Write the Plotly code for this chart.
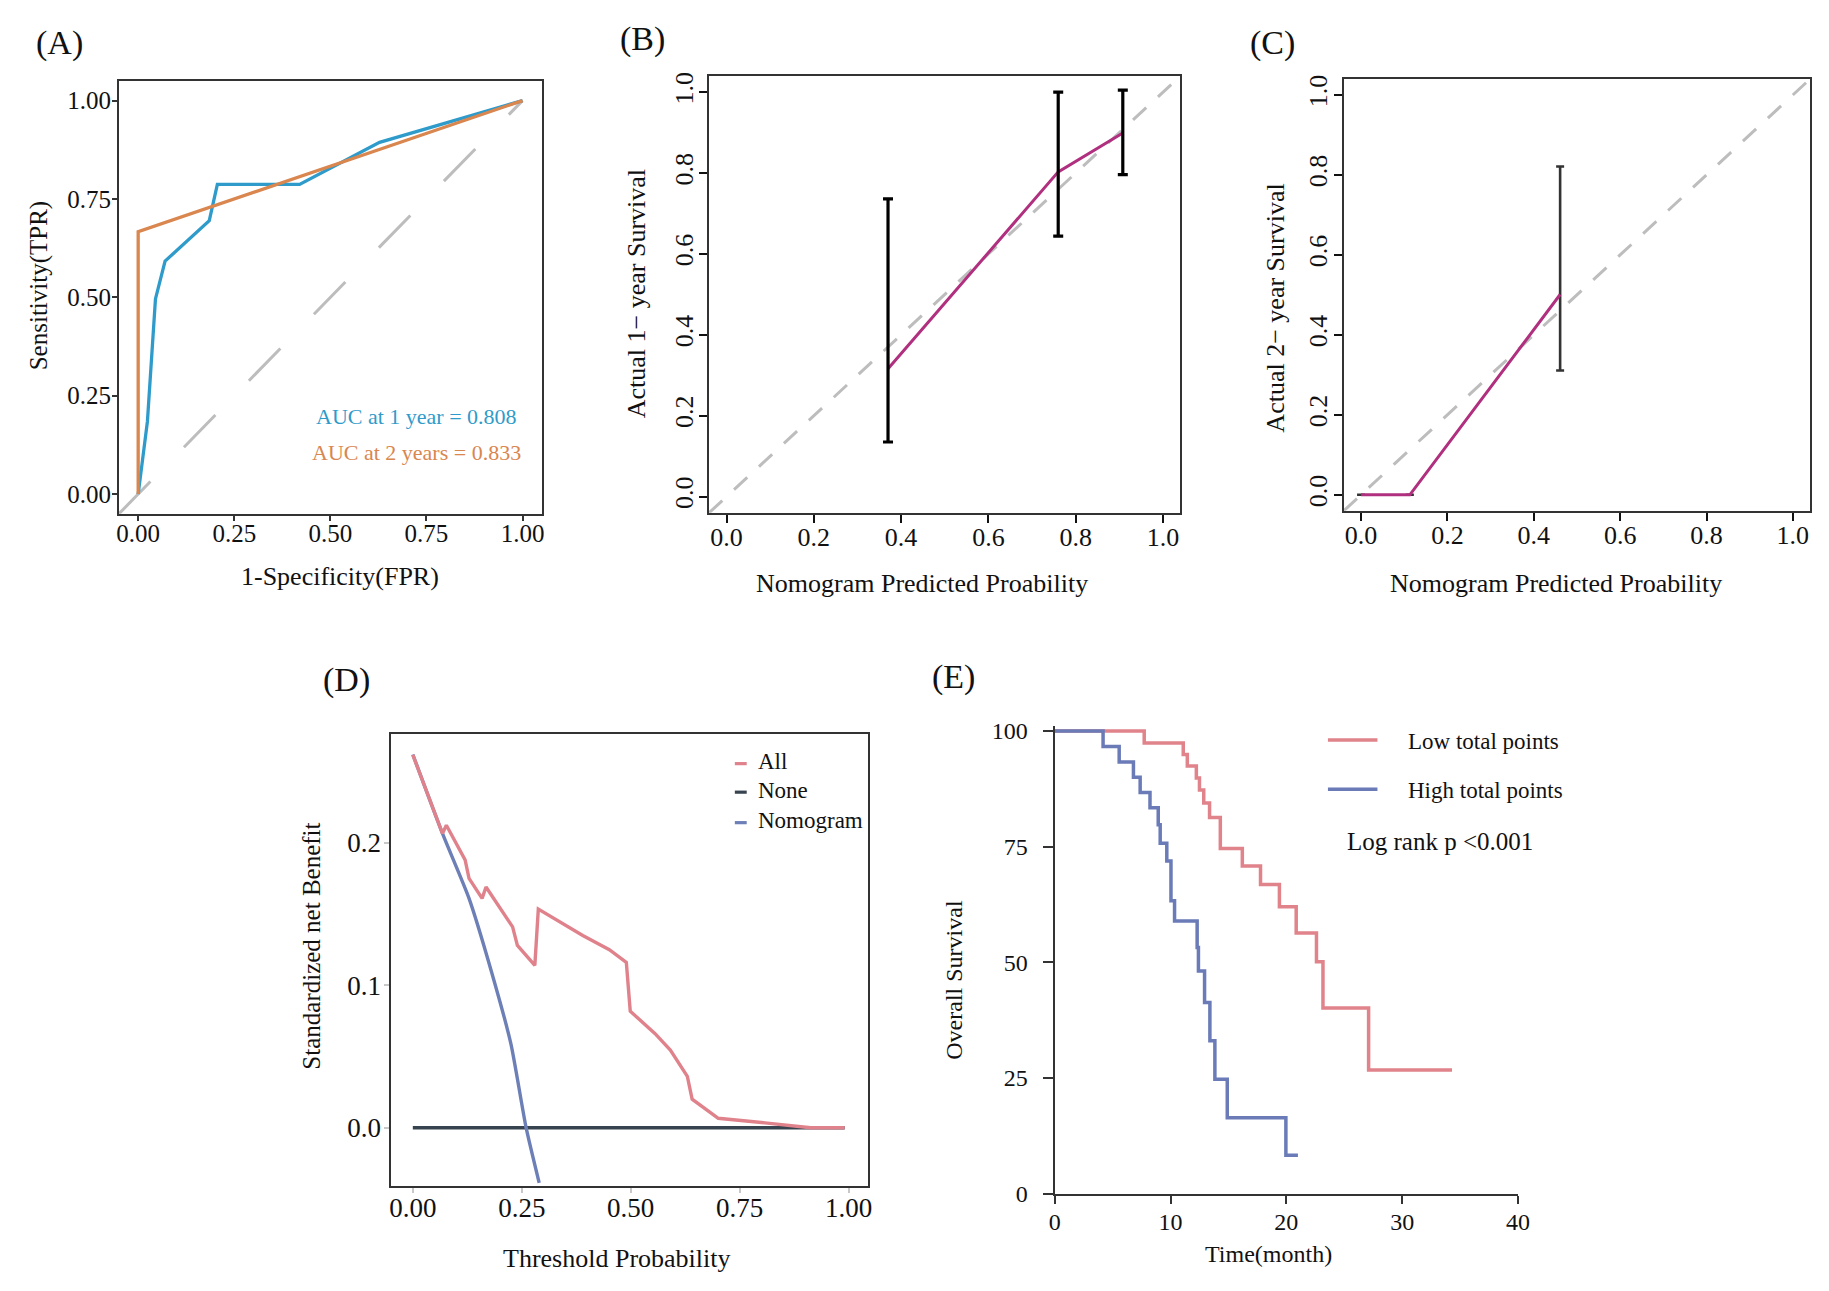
import plotly.graph_objects as go

W, H = 1829, 1291
FONT = "Liberation Serif"

# ---------------- data ----------------
# (A) ROC
roc1_fpr = [0.0, 0.024, 0.045, 0.07, 0.185, 0.206, 0.42, 0.628, 1.0]
roc1_tpr = [0.0, 0.184, 0.496, 0.592, 0.695, 0.787, 0.787, 0.894, 1.0]
roc2_fpr = [0.0, 0.0, 1.0]
roc2_tpr = [0.0, 0.667, 1.0]
auc_labels = ["AUC at 1 year = 0.808", "AUC at 2 years = 0.833"]

# (B) calibration 1-year
cal1_x = [0.370, 0.760, 0.908]
cal1_y = [0.316, 0.803, 0.899]
cal1_hi = [0.736, 1.0, 1.005]
cal1_lo = [0.135, 0.644, 0.796]

# (C) calibration 2-year
cal2_x = [0.0, 0.113, 0.461]
cal2_y = [0.0, 0.0, 0.501]
cal2_hi = [0.0, 0.0, 0.821]
cal2_lo = [0.0, 0.0, 0.311]

# (D) decision curve
dca_t = [0.0, 0.068, 0.077, 0.120, 0.129, 0.159, 0.168, 0.229, 0.240, 0.280, 0.288,
         0.329, 0.390, 0.451, 0.490, 0.499, 0.556, 0.591, 0.630, 0.641, 0.701, 0.808,
         0.913, 0.991]
dca_all = [0.2617, 0.2066, 0.2123, 0.188, 0.175, 0.161, 0.169, 0.141, 0.128, 0.114,
           0.1535, 0.146, 0.135, 0.125, 0.116, 0.0818, 0.066, 0.0545, 0.036, 0.020,
           0.0066, 0.0034, 0.0, 0.0]
none_t = [0.0, 0.991]
none_v = [0.0, 0.0]
nomo_t = [0.0, 0.068, 0.129, 0.181, 0.225, 0.26, 0.29]
nomo_v = [0.262, 0.2066, 0.161, 0.109, 0.059, 0.0, -0.0387]
dca_legend = ["All", "None", "Nomogram"]

# (E) Kaplan-Meier
low_t = [0, 7.73, 11.1, 11.45, 12.23, 12.5, 12.87, 13.37, 14.3, 16.2, 17.77, 19.4,
         20.85, 22.6, 23.16, 27.1, 34.3]
low_s = [100, 97.4, 94.9, 92.4, 89.8, 87.2, 84.4, 81.3, 74.6, 70.8, 66.8, 62.0,
         56.3, 50.1, 40.1, 26.7, 26.7]
high_t = [0, 4.18, 5.57, 6.8, 7.38, 8.23, 8.94, 9.11, 9.68, 10.04, 10.35, 12.3,
          12.41, 12.94, 13.4, 13.83, 14.9, 19.96, 21.0]
high_s = [100, 96.6, 93.3, 90.0, 86.7, 83.4, 79.7, 75.7, 71.9, 63.3, 58.9, 53.2,
          48.1, 41.3, 33.0, 24.7, 16.4, 8.3, 8.3]
km_legend = ["Low total points", "High total points"]

# ---------------- colors ----------------
C_BLUE = "#2F9BCA"
C_ORANGE = "#D9864F"
C_PURPLE = "#B0307F"
C_GRAY = "#BDBDBD"
C_PINK = "#E0828B"
C_DARK = "#37444F"
C_NOMO = "#6C7FB6"
C_KMRED = "#E0838A"
C_KMBLUE = "#6A7BB8"


def fx(px):
    return px / W


def fy(py):
    return 1 - py / H


fig = go.Figure()

# ---- (A) ----
fig.add_trace(go.Scatter(x=[-0.05, 1.0], y=[-0.05, 1.0], mode="lines",
                         line=dict(color=C_GRAY, width=3, dash="45px,48px"),
                         xaxis="x", yaxis="y", showlegend=False))
fig.add_trace(go.Scatter(x=roc1_fpr, y=roc1_tpr, mode="lines",
                         line=dict(color=C_BLUE, width=3.3),
                         xaxis="x", yaxis="y", showlegend=False))
fig.add_trace(go.Scatter(x=roc2_fpr, y=roc2_tpr, mode="lines",
                         line=dict(color=C_ORANGE, width=3.3),
                         xaxis="x", yaxis="y", showlegend=False))

# ---- (B) ----
fig.add_trace(go.Scatter(x=[-0.04, 1.04], y=[-0.04, 1.04], mode="lines",
                         line=dict(color=C_GRAY, width=3, dash="18px,16px"),
                         xaxis="x2", yaxis="y2", showlegend=False))
fig.add_trace(go.Scatter(x=cal1_x, y=cal1_y, mode="lines",
                         line=dict(color=C_PURPLE, width=3),
                         xaxis="x2", yaxis="y2", showlegend=False))
fig.add_trace(go.Scatter(
    x=cal1_x, y=cal1_y, mode="markers", marker=dict(size=1, color="black"),
    error_y=dict(type="data", symmetric=False,
                 array=[h - y for h, y in zip(cal1_hi, cal1_y)],
                 arrayminus=[y - l for l, y in zip(cal1_lo, cal1_y)],
                 color="black", thickness=3.2, width=5),
    xaxis="x2", yaxis="y2", showlegend=False))

# ---- (C) ----
fig.add_trace(go.Scatter(x=[-0.04, 1.04], y=[-0.04, 1.04], mode="lines",
                         line=dict(color=C_GRAY, width=3, dash="18px,16px"),
                         xaxis="x3", yaxis="y3", showlegend=False))
fig.add_trace(go.Scatter(
    x=cal2_x, y=cal2_y, mode="markers", marker=dict(size=1, color="#333333"),
    error_y=dict(type="data", symmetric=False,
                 array=[h - y for h, y in zip(cal2_hi, cal2_y)],
                 arrayminus=[y - l for l, y in zip(cal2_lo, cal2_y)],
                 color="#333333", thickness=2.6, width=4),
    xaxis="x3", yaxis="y3", showlegend=False))
fig.add_trace(go.Scatter(x=cal2_x, y=cal2_y, mode="lines",
                         line=dict(color=C_PURPLE, width=3),
                         xaxis="x3", yaxis="y3", showlegend=False))

# ---- (D) ----
fig.add_trace(go.Scatter(x=none_t, y=none_v, mode="lines",
                         line=dict(color=C_DARK, width=3.4),
                         xaxis="x4", yaxis="y4", showlegend=False))
fig.add_trace(go.Scatter(x=nomo_t, y=nomo_v, mode="lines",
                         line=dict(color=C_NOMO, width=3.4, shape="spline", smoothing=0.6),
                         xaxis="x4", yaxis="y4", showlegend=False))
fig.add_trace(go.Scatter(x=dca_t, y=dca_all, mode="lines",
                         line=dict(color=C_PINK, width=3.4),
                         xaxis="x4", yaxis="y4", showlegend=False))

# ---- (E) ----
fig.add_trace(go.Scatter(x=low_t, y=low_s, mode="lines",
                         line=dict(color=C_KMRED, width=3.5, shape="hv"),
                         xaxis="x5", yaxis="y5", showlegend=False))
fig.add_trace(go.Scatter(x=high_t, y=high_s, mode="lines",
                         line=dict(color=C_KMBLUE, width=3.5, shape="hv"),
                         xaxis="x5", yaxis="y5", showlegend=False))


def box_axis(domain, rng, tickvals, ticktext, size, ticklen, anchor, tickcolor="#333333",
             angle=None, standoff=2, linecolor="#333333", lw=1.8):
    d = dict(domain=domain, range=rng, tickvals=tickvals, ticktext=ticktext, anchor=anchor,
             showgrid=False, zeroline=False, showline=True, mirror=True,
             linecolor=linecolor, linewidth=lw, ticks="outside", ticklen=ticklen,
             tickwidth=1.6, tickcolor=tickcolor,
             tickfont=dict(family=FONT, size=size, color="#111111"),
             ticklabelstandoff=standoff)
    if angle is not None:
        d["tickangle"] = angle
    return d


t4 = [0, 0.25, 0.5, 0.75, 1.0]
t4_txt = ["0.00", "0.25", "0.50", "0.75", "1.00"]
t5 = [0, 0.2, 0.4, 0.6, 0.8, 1.0]
t5_txt = ["0.0", "0.2", "0.4", "0.6", "0.8", "1.0"]

layout = dict(
    width=W, height=H, margin=dict(l=0, r=0, t=0, b=0),
    paper_bgcolor="white", plot_bgcolor="white", showlegend=False,
    xaxis=box_axis([fx(106), fx(533)], [-0.05, 1.05], t4, t4_txt, 25, 5, "y", standoff=-9),
    yaxis=box_axis([fy(506), fy(66)], [-0.05, 1.05], t4, t4_txt, 25, 5, "x", standoff=-4),
    xaxis2=box_axis([fx(702), fx(1178)], [-0.04, 1.04], t5, t5_txt, 26, 8, "y2", tickcolor="#111111", standoff=-8),
    yaxis2=box_axis([fy(505), fy(61)], [-0.04, 1.04], t5, t5_txt, 26, 8, "x2", tickcolor="#111111", angle=-90, standoff=-4),
    xaxis3=box_axis([fx(1343), fx(1814)], [-0.04, 1.04], t5, t5_txt, 26, 8, "y3", tickcolor="#111111", standoff=-8),
    yaxis3=box_axis([fy(503), fy(64)], [-0.04, 1.04], t5, t5_txt, 26, 8, "x3", tickcolor="#111111", angle=-90, standoff=-4),
    xaxis4=box_axis([fx(381), fx(862)], [-0.0495, 1.0435], t4, t4_txt, 27, 5, "y4", tickcolor="#C8C8C8", standoff=-8),
    yaxis4=box_axis([fy(1189), fy(730)], [-0.0407, 0.2763], [0.0, 0.1, 0.2], ["0.0", "0.1", "0.2"], 27, 5, "x4",
                    tickcolor="#C8C8C8", standoff=-2),
    xaxis5=dict(domain=[fx(1051), fx(1519)], range=[0, 40], tickvals=[0, 10, 20, 30, 40], anchor="y5",
                showgrid=False, zeroline=False, showline=True, mirror=False,
                linecolor="#333333", linewidth=2, ticks="outside", ticklen=8, tickwidth=2,
                tickcolor="#333333", tickfont=dict(family=FONT, size=24, color="#111111"),
                ticklabelstandoff=-2),
    yaxis5=dict(domain=[fy(1197), fy(722)], range=[0, 101], tickvals=[0, 25, 50, 75, 100], anchor="x5",
                showgrid=False, zeroline=False, showline=True, mirror=False,
                linecolor="#333333", linewidth=2, ticks="outside", ticklen=10, tickwidth=2,
                tickcolor="#333333", tickfont=dict(family=FONT, size=24, color="#111111"),
                ticklabelstandoff=10),
)
fig.update_layout(**layout)

ann = []


def txt(x, y, s, size, color="#111111", angle=0, xanchor="center", yanchor="middle"):
    ann.append(dict(x=fx(x), y=fy(y), xref="paper", yref="paper", text=s, showarrow=False,
                    textangle=angle, xanchor=xanchor, yanchor=yanchor,
                    font=dict(family=FONT, size=size, color=color)))


# panel labels
txt(46, 27, "(A)", 34)
txt(635, 23, "(B)", 34)
txt(1271, 27, "(C)", 34)
txt(336, 675, "(D)", 34)
txt(949, 672, "(E)", 34)

# axis titles
txt(25, 274, "Sensitivity(TPR)", 25, angle=-90)
txt(329, 570, "1-Specificity(FPR)", 26)
txt(629, 282, "Actual 1\u2212 year Survival", 26, angle=-90)
txt(917, 577, "Nomogram Predicted Proability", 26)
txt(1274, 297, "Actual 2\u2212 year Survival", 26, angle=-90)
txt(1557, 577, "Nomogram Predicted Proability", 26)
txt(301, 946, "Standardized net Benefit", 25, angle=-90)
txt(608, 1263, "Threshold Probability", 26)
txt(949, 980, "Overall Survival", 24, angle=-90)
txt(1267, 1258, "Time(month)", 24)

# AUC labels (panel A)
for lab, col, yy in zip(auc_labels, [C_BLUE, C_ORANGE], [0.196, 0.105]):
    ann.append(dict(x=0.725, y=yy, xref="x", yref="y", text=lab, showarrow=False,
                    xanchor="center", yanchor="middle",
                    font=dict(family=FONT, size=22, color=col)))

# legend D
shapes = []
for lab, col, yy in zip(dca_legend, [C_PINK, C_DARK, C_NOMO], [758, 787, 818]):
    shapes.append(dict(type="line", xref="paper", yref="paper",
                       x0=fx(728), x1=fx(740), y0=fy(yy + 2), y1=fy(yy + 2),
                       line=dict(color=col, width=3.2)))
    txt(749, yy, lab, 23, xanchor="left")

# legend E
for lab, col, yy in zip(km_legend, [C_KMRED, C_KMBLUE], [737, 787]):
    shapes.append(dict(type="line", xref="paper", yref="paper",
                       x0=fx(1327), x1=fx(1377), y0=fy(yy - 1), y1=fy(yy - 1),
                       line=dict(color=col, width=3.4)))
    txt(1406, yy, lab, 23, xanchor="left")
txt(1344, 839, "Log rank p <0.001", 25, xanchor="left")

fig.update_layout(annotations=ann, shapes=shapes)
fig.write_html("out.html")
